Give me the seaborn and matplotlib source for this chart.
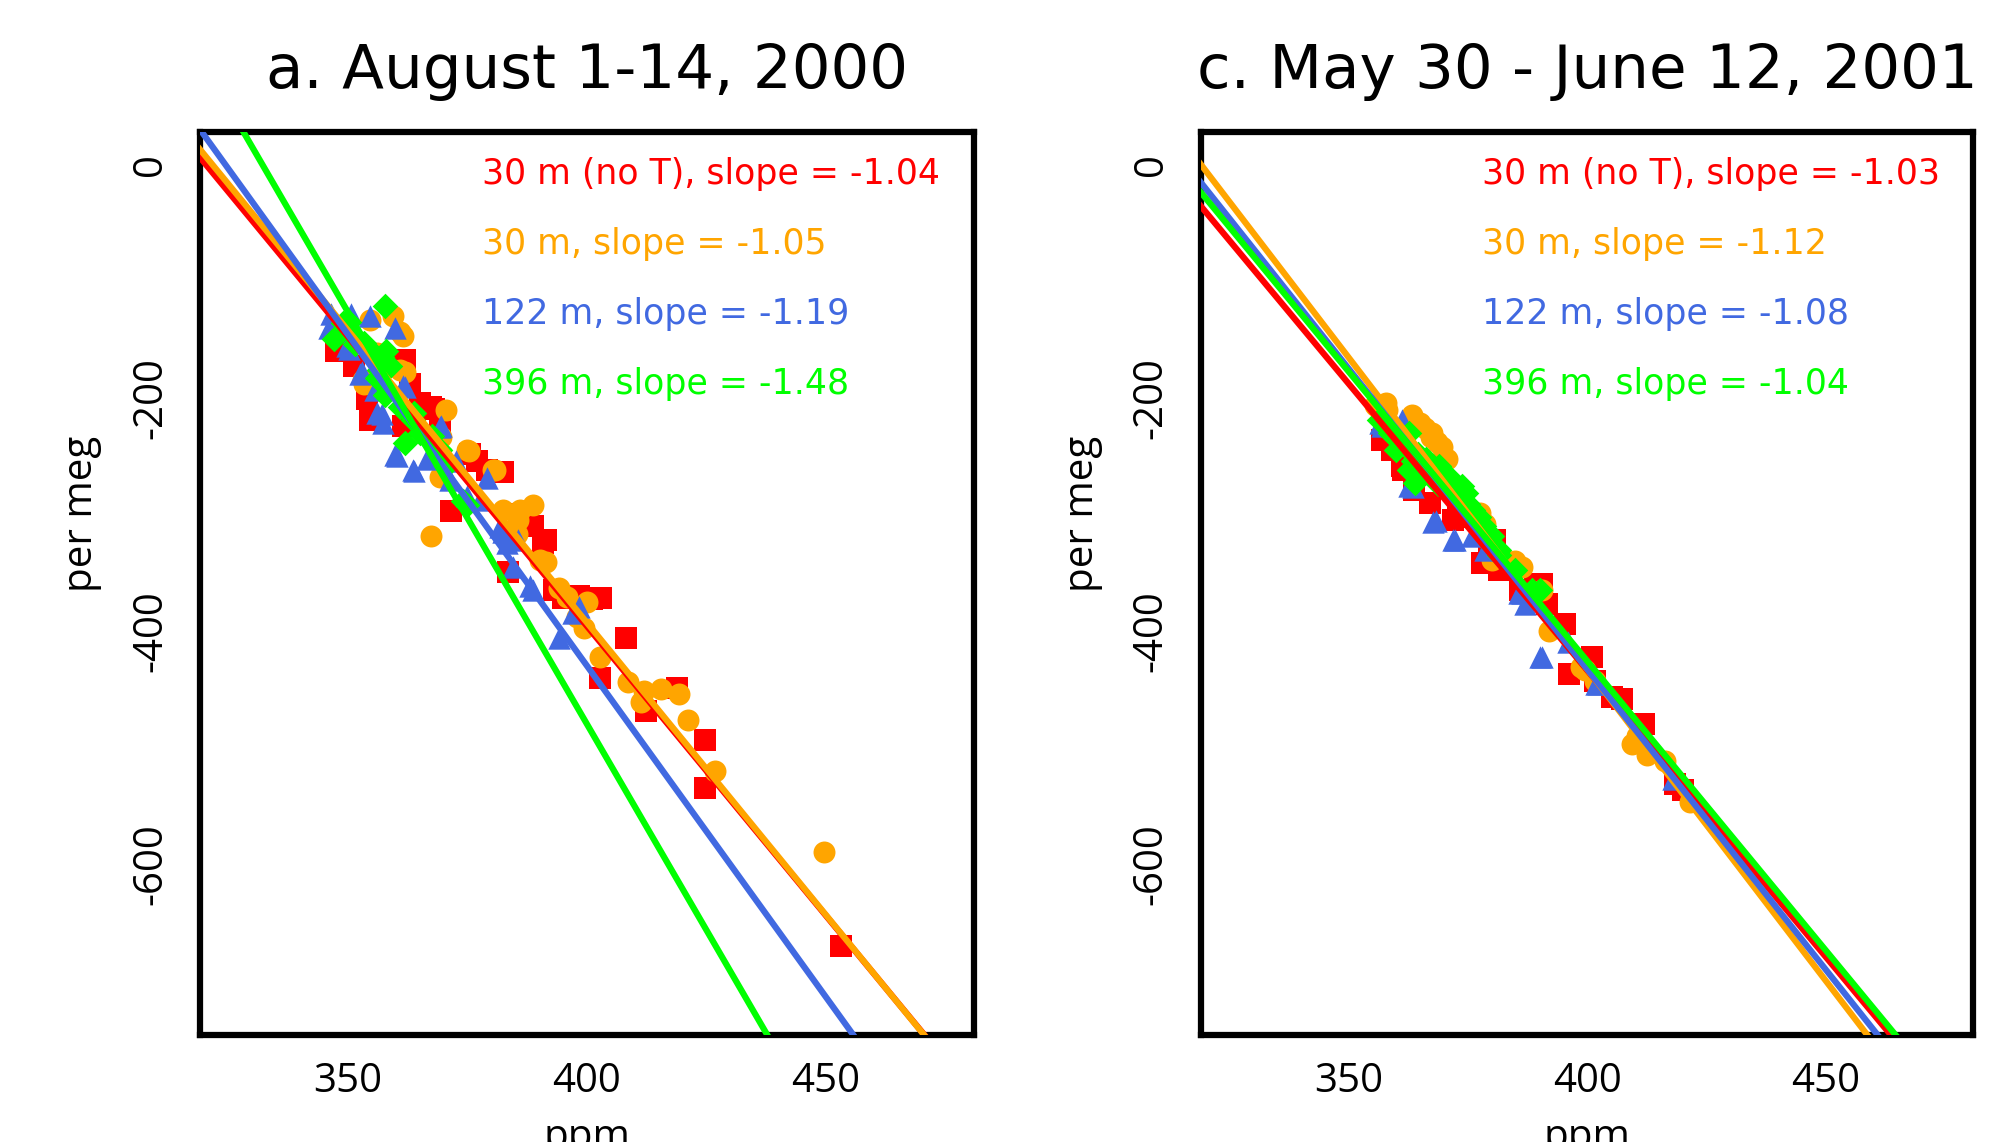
import pandas as pd
import seaborn as sns
import matplotlib.pyplot as plt

# ---- panel a: August 1-14, 2000 ----
a_red_x = [347.5, 351.3, 354.5, 362.0, 354.0, 367.3, 361.5, 371.6, 377.0, 382.4, 388.8, 391.5,
           383.4, 393.1, 398.4, 401.1, 408.1, 402.7, 412.4, 418.8, 424.7, 424.7, 453.3, 363.0,
           367.9, 369.3, 375.5, 390.9, 399.2, 350.0, 356.0, 365.0, 379.0, 386.0, 395.0, 403.0]
a_red_y = [-160, -173, -219, -168, -201, -208, -224, -297, -254, -264, -310, -322,
           -350, -365, -370, -373, -406, -441, -469, -449, -494, -535, -671, -188,
           -210, -222, -248, -325, -374, -150, -190, -205, -262, -300, -372, -372]

a_orange_x = [359.3, 361.5, 362.0, 370.6, 375.4, 380.7, 367.3, 388.8, 385.6, 391.5, 394.1, 400.0,
              399.5, 402.7, 408.6, 411.3, 415.6, 419.3, 421.2, 426.8, 449.6, 354.5, 353.4, 369.5,
              360.9, 356.0, 360.9, 353.2, 369.3, 382.5, 385.3, 390.2, 395.8, 374.8, 380.4, 386.0,
              398.0, 412.0]
a_orange_y = [-130, -147, -178, -211, -246, -262, -319, -292, -305, -341, -363, -375,
              -398, -423, -444, -461, -450, -454, -477, -520, -590, -133, -188, -234,
              -144, -162, -176, -185, -268, -296, -317, -339, -371, -245, -262, -296,
              -388, -452]

a_blue_x = [346.5, 350.7, 354.5, 359.9, 345.9, 350.2, 352.9, 357.2, 362.0, 359.9, 363.6, 369.5,
            372.7, 379.1, 382.4, 385.6, 384.5, 388.8, 394.1, 398.4, 355.6, 374.9, 361.6, 356.0,
            357.4, 360.2, 363.7, 369.3, 371.3, 377.6, 381.8, 383.2, 388.1, 397.1, 366.5, 349.7,
            352.5]
a_blue_y = [-128, -128, -130, -140, -140, -158, -178, -214, -191, -249, -262, -224,
            -254, -269, -315, -322, -345, -365, -406, -380, -193, -284, -190, -213,
            -222, -250, -263, -225, -271, -288, -311, -325, -362, -385, -253, -156,
            -180]

a_green_x = [357.7, 347.0, 350.2, 353.4, 357.2, 358.8, 356.1, 357.7, 360.9, 363.6, 362.0, 366.3,
             369.0, 370.6, 374.9, 351.8, 351.5, 354.6, 358.0, 356.4, 361.6, 363.7, 365.0, 367.5,
             369.3, 374.1, 349.0]
a_green_y = [-121, -150, -135, -153, -165, -173, -183, -198, -208, -219, -239, -234,
             -244, -259, -292, -150, -154, -159, -160, -176, -209, -213, -230, -233,
             -245, -289, -136]

# ---- panel c: May 30 - June 12, 2001 ----
c_red_x = [357.0, 361.2, 363.6, 373.0, 378.0, 379.3, 381.4, 390.5, 391.5, 395.4, 396.1, 401.0,
           401.7, 405.2, 380.7, 361.3, 364.5, 371.9, 385.8, 389.0, 407.2, 418.4, 420.0, 412.0,
           359.0, 367.0]
c_red_y = [-236, -259, -279, -302, -342, -337, -348, -360, -377, -394, -437, -423,
           -443, -457, -322, -262, -264, -305, -365, -360, -459, -532, -537, -480,
           -245, -290]

c_orange_x = [357.7, 363.3, 367.5, 369.5, 370.6, 377.6, 378.6, 380.0, 386.3, 390.5, 391.9, 399.6,
              401.7, 355.6, 355.4, 358.1, 363.4, 367.2, 369.8, 384.8, 398.6, 409.3, 412.5, 416.3,
              421.6, 365.0, 410.5, 366.0, 368.5]
c_orange_y = [-205, -215, -230, -242, -253, -299, -308, -339, -345, -365, -400, -434,
              -443, -207, -206, -211, -219, -234, -252, -340, -431, -497, -507, -512,
              -547, -222, -490, -226, -238]

c_blue_x = [362.6, 368.2, 372.3, 375.8, 385.6, 387.0, 390.5, 402.3, 356.6, 361.2, 378.6, 357.0,
            363.4, 367.7, 371.9, 386.4, 390.1, 401.8, 396.0, 418.0]
c_blue_y = [-276, -306, -322, -319, -368, -377, -423, -446, -222, -219, -331, -224,
            -277, -307, -322, -368, -423, -446, -410, -527]

c_green_x = [356.3, 358.7, 360.5, 362.6, 363.9, 365.4, 367.5, 368.9, 370.6, 372.3, 373.7, 375.1,
             377.2, 380.0, 381.4, 384.9, 388.4, 362.6, 366.1, 368.9, 359.8, 362.6, 363.9, 357.0,
             361.3, 363.4, 366.6, 368.8, 373.0, 378.4, 381.6, 390.1, 364.5, 366.8, 370.0,
             371.5, 360.0, 374.5, 376.0]
c_green_y = [-219, -230, -236, -245, -253, -262, -268, -273, -279, -285, -276, -291,
             -302, -319, -331, -348, -365, -262, -253, -259, -245, -230, -273, -219,
             -234, -254, -264, -274, -284, -310, -335, -365, -248, -258, -268,
             -270, -228, -282, -296]

# fitted lines: slope as labelled (ppm O2 equiv), per meg value at 400 ppm
series = ["30 m (no T)", "30 m", "122 m", "396 m"]
colors = ["#ff0000", "#ffa500", "#4169e1", "#00ff00"]
markers = ["s", "o", "^", "D"]
marker_sizes = [250, 250, 260, 170]
a_slopes = [-1.04, -1.05, -1.19, -1.48]
a_at400 = [-396, -393, -430, -480]
c_slopes = [-1.03, -1.12, -1.08, -1.04]
c_at400 = [-434, -433, -433, -426]

O2_FRAC = 0.2095
line_x = [300, 500]

sns.set_style("white")
plt.rcParams["font.family"] = ["Open Sans", "DejaVu Sans"]
plt.rcParams["axes.unicode_minus"] = False
plt.rcParams["text.color"] = "black"
plt.rcParams["axes.labelcolor"] = "black"
plt.rcParams["xtick.color"] = "black"
plt.rcParams["ytick.color"] = "black"
wide_font = ["DejaVu Sans"]

fig = plt.figure(figsize=(19.91, 11.42), dpi=100)
ax_a = fig.add_axes([0.1005, 0.0937, 0.3885, 0.7907])
ax_c = fig.add_axes([0.6032, 0.0937, 0.3880, 0.7907])

panels = [
    (ax_a, "a. August 1-14, 2000",
     [(a_red_x, a_red_y), (a_orange_x, a_orange_y), (a_blue_x, a_blue_y), (a_green_x, a_green_y)],
     a_slopes, a_at400),
    (ax_c, "c. May 30 - June 12, 2001",
     [(c_red_x, c_red_y), (c_orange_x, c_orange_y), (c_blue_x, c_blue_y), (c_green_x, c_green_y)],
     c_slopes, c_at400),
]

for ax, title, pts, slopes, at400 in panels:
    for (xs, ys), col, mk, ms in zip(pts, colors, markers, marker_sizes):
        sns.scatterplot(x=xs, y=ys, ax=ax, color=col, marker=mk, s=ms,
                        linewidth=0, legend=False, zorder=2)
    for col, sl, b in zip(colors, slopes, at400):
        k = sl / O2_FRAC
        ly = [b + k * (xv - 400) for xv in line_x]
        sns.lineplot(x=line_x, y=ly, ax=ax, color=col, lw=4.5,
                     sort=False, estimator=None, legend=False, zorder=3)
    for i, (name, col, sl) in enumerate(zip(series, colors, slopes)):
        ax.text(0.364, 0.9535 - i * 0.0777, f"{name}, slope = {sl:.2f}",
                transform=ax.transAxes, color=col, fontsize=25,
                family=wide_font, ha="left", va="center")

    ax.set_xlim(319, 481)
    ax.set_ylim(-747, 28)
    ax.set_xticks([350, 400, 450])
    ax.set_yticks([0, -200, -400, -600])
    ax.tick_params(axis="both", direction="out", length=7, width=3.5,
                   labelsize=29, color="black", labelcolor="black")
    ax.tick_params(axis="x", pad=12)
    ax.tick_params(axis="y", pad=14)
    for lab in ax.get_yticklabels():
        lab.set_rotation(90)
        lab.set_va("center")
    for sp in ax.spines.values():
        sp.set_linewidth(4.5)
        sp.set_color("black")
        sp.set_visible(True)

    ax.set_title(title, fontsize=44, pad=32, family=wide_font, color="black")
    ax.set_xlabel("ppm", fontsize=29, color="black")
    ax.set_ylabel("per meg", fontsize=29, color="black")
    ax.xaxis.set_label_coords(0.5, -0.091)
    ax.yaxis.set_label_coords(-0.127, 0.577)

fig.savefig("out.png", dpi=100)
